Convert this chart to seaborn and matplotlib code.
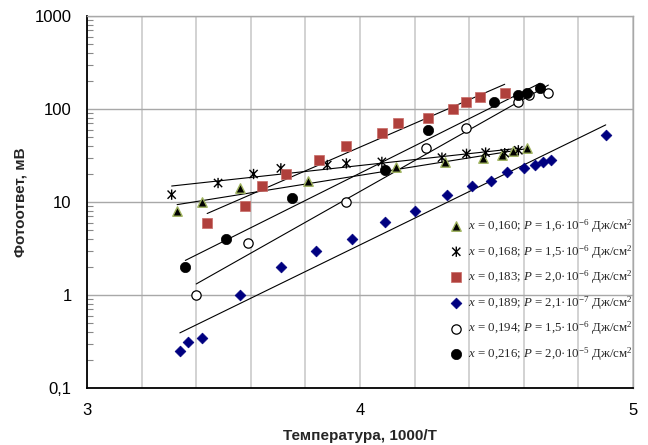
import numpy as np
import matplotlib
matplotlib.use("Agg")
import matplotlib.pyplot as plt
import seaborn as sns
from matplotlib.path import Path
from matplotlib.ticker import FixedLocator, FuncFormatter, LogLocator, NullFormatter

# ---- data ----
labels = [
    r"$x$ = 0,160; $P$ = 1,6·10$^{-6}$ Дж/см$^{2}$",
    r"$x$ = 0,168; $P$ = 1,5·10$^{-6}$ Дж/см$^{2}$",
    r"$x$ = 0,183; $P$ = 2,0·10$^{-6}$ Дж/см$^{2}$",
    r"$x$ = 0,189; $P$ = 2,1·10$^{-7}$ Дж/см$^{2}$",
    r"$x$ = 0,194; $P$ = 1,5·10$^{-6}$ Дж/см$^{2}$",
    r"$x$ = 0,216; $P$ = 2,0·10$^{-5}$ Дж/см$^{2}$",
]

x_160 = [3.33, 3.42, 3.56, 3.81, 4.13, 4.31, 4.45, 4.52, 4.56, 4.61]
y_160 = [8.0, 10.0, 14.0, 17.0, 24.0, 27.0, 30.0, 32.0, 35.0, 38.0]

x_168 = [3.31, 3.48, 3.61, 3.71, 3.88, 3.95, 4.08, 4.30, 4.39, 4.46, 4.53, 4.58]
y_168 = [12.0, 16.0, 20.0, 23.0, 25.0, 26.0, 27.0, 30.0, 33.0, 34.0, 33.5, 36.0]

x_183 = [3.44, 3.58, 3.64, 3.73, 3.85, 3.95, 4.08, 4.14, 4.25, 4.34, 4.39, 4.44, 4.53]
y_183 = [6.0, 9.0, 15.0, 20.0, 28.0, 40.0, 55.0, 70.0, 80.0, 100.0, 120.0, 135.0, 150.0]

x_189 = [3.34, 3.37, 3.42, 3.56, 3.71, 3.84, 3.97, 4.09, 4.20, 4.32, 4.41, 4.48,
         4.54, 4.60, 4.64, 4.67, 4.70, 4.90]
y_189 = [0.25, 0.31, 0.345, 1.0, 2.0, 3.0, 4.0, 6.1, 8.0, 12.0, 15.0, 17.0,
         21.0, 23.0, 25.0, 27.0, 28.0, 52.0]

x_194 = [3.40, 3.59, 3.95, 4.24, 4.39, 4.58, 4.62, 4.69]
y_194 = [1.0, 3.6, 10.0, 38.0, 62.0, 120.0, 140.0, 150.0]

x_216 = [3.36, 3.51, 3.75, 4.09, 4.25, 4.49, 4.58, 4.61, 4.66]
y_216 = [2.0, 4.0, 11.0, 22.0, 60.0, 120.0, 140.0, 150.0, 170.0]

y_ticks = [0.1, 1, 10, 100, 1000]
y_ticklabels = ["0,1", "1", "10", "100", "1000"]
x_label = "Температура, 1000/T"
y_label = "Фотоответ, мВ"

# ---- style ----
sns.set_theme(style="white")
plt.rcParams["font.family"] = ["Liberation Sans", "DejaVu Sans"]
plt.rcParams["mathtext.fontset"] = "custom"
plt.rcParams["mathtext.rm"] = "Liberation Serif"
plt.rcParams["mathtext.it"] = "Liberation Serif:italic"
plt.rcParams["mathtext.bf"] = "Liberation Serif:bold"

# Excel-style asterisk: an X crossed by a vertical bar
ast = Path([(-0.8, -0.8), (0.8, 0.8), (-0.8, 0.8), (0.8, -0.8), (0, -1), (0, 1)],
           [Path.MOVETO, Path.LINETO, Path.MOVETO, Path.LINETO, Path.MOVETO, Path.LINETO])

fig, ax = plt.subplots(figsize=(6.48, 4.45), dpi=100)
fig.subplots_adjust(left=0.1343, right=0.9769, bottom=0.1281, top=0.964)
ax.set_yscale("log")

series = [
    (x_160, y_160, dict(marker="^", s=46, color="black", edgecolor="#9FB35E", linewidth=1.0)),
    (x_168, y_168, dict(marker=ast, s=55, facecolor="none", edgecolor="black", linewidth=1.0)),
    (x_183, y_183, dict(marker="s", s=48, color="#B0403C", edgecolor="#C86A66", linewidth=0.5)),
    (x_189, y_189, dict(marker="D", s=30, color="#000080", edgecolor="#000080", linewidth=0.5)),
    (x_194, y_194, dict(marker="o", s=45, color="white", edgecolor="black", linewidth=0.9)),
    (x_216, y_216, dict(marker="o", s=55, color="black", edgecolor="black", linewidth=0.5)),
]

for (xs, ys, kw), lab in zip(series, labels):
    xs = np.asarray(xs); ys = np.asarray(ys)
    coef = np.polyfit(xs, np.log(ys), 1)
    xl = np.array([xs.min(), xs.max()])
    yl = np.exp(np.polyval(coef, xl))
    sns.lineplot(x=xl, y=yl, color="black", linewidth=0.8, ax=ax, legend=False, zorder=2)
    sns.scatterplot(x=xs, y=ys, label=lab, ax=ax, zorder=3, **kw)

ax.set_xlim(3, 5)
ax.set_ylim(0.1, 1000)

# x ticks: every 0.2, labels only at integers
ax.xaxis.set_major_locator(FixedLocator(np.round(np.arange(3.0, 5.001, 0.2), 2)))
ax.xaxis.set_major_formatter(FuncFormatter(lambda v, p: f"{v:.0f}" if abs(v - round(v)) < 1e-6 else ""))
ax.yaxis.set_major_locator(FixedLocator(y_ticks))
ax.yaxis.set_major_formatter(FuncFormatter(lambda v, p: dict(zip(y_ticks, y_ticklabels)).get(min(y_ticks, key=lambda t: abs(np.log10(t) - np.log10(v))), "")))
ax.yaxis.set_minor_locator(LogLocator(base=10, subs=np.arange(2, 10)))
ax.yaxis.set_minor_formatter(NullFormatter())

ax.tick_params(axis="both", which="major", direction="in", labelsize=12, colors="black", pad=11)
ax.tick_params(axis="x", which="major", length=4, width=0.8, color="#888888")
ax.tick_params(axis="y", which="major", length=0)
ax.tick_params(axis="y", which="minor", direction="in", length=4, width=0.8, color="#888888", left=True)

ax.xaxis.grid(True, color="#D2D2D2", linewidth=1.4)
ax.yaxis.grid(True, which="major", color="#A8A8A8", linewidth=1.0)
ax.set_axisbelow(True)

for side in ["left", "bottom"]:
    ax.spines[side].set_color("black")
    ax.spines[side].set_linewidth(1.3)
for side in ["top", "right"]:
    ax.spines[side].set_color("#A8A8A8")
    ax.spines[side].set_linewidth(1.0)

ax.set_xlabel(x_label, fontsize=11, fontweight="bold", labelpad=8)
ax.set_ylabel(y_label, fontsize=11, fontweight="bold", labelpad=5)

leg = ax.legend(loc="lower left", bbox_to_anchor=(0.655, 0.05), frameon=False,
                prop={"family": "Liberation Serif", "size": 9.3},
                handlelength=0.8, handletextpad=0.5, labelspacing=0.62, borderpad=0)

fig.savefig("out.png", dpi=100)
